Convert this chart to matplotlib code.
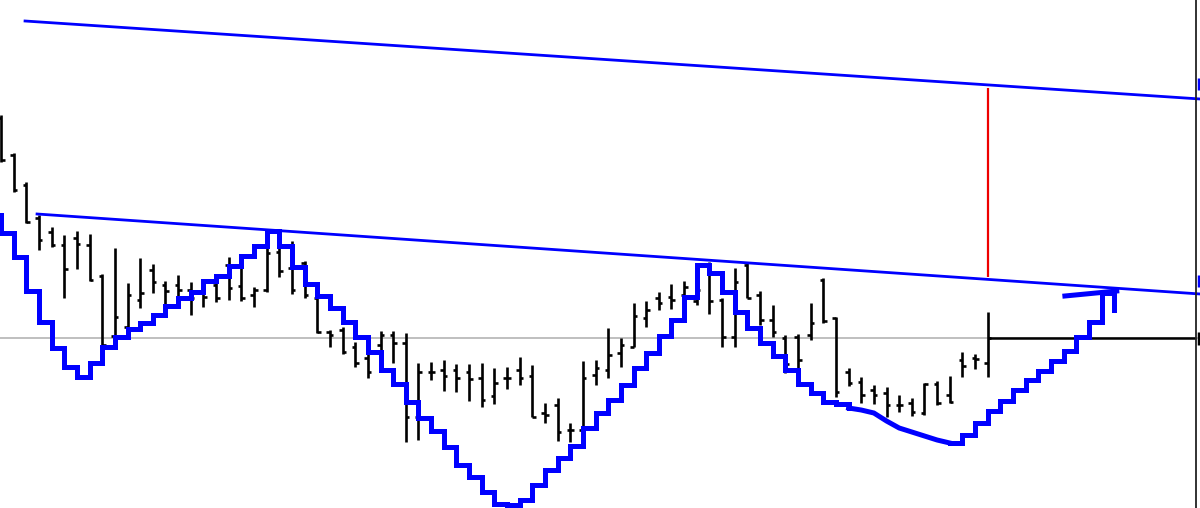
import numpy as np
import matplotlib.pyplot as plt

bar_high = [115, 153, 182, 215, 227, 235, 231, 234, 274, 248, 283, 258, 264, 281, 275, 282,
            290, 277, 257, 265, 287, 247, 247, 241, 261, 295, 330, 327, 342, 354, 331, 331,
            333, 363, 362, 360, 364, 364, 363, 368, 367, 357, 365, 403, 398, 423, 361, 360,
            328, 338, 303, 301, 292, 284, 281, 280, 262, 298, 268, 263, 291, 305, 335, 334,
            303, 278, 317, 368, 377, 385, 387, 395, 398, 383, 381, 376, 352, 354, 312]
bar_low = [162, 192, 223, 250, 247, 298, 269, 281, 347, 336, 327, 308, 293, 306, 300, 315,
           307, 302, 300, 301, 307, 292, 277, 294, 298, 333, 347, 354, 367, 378, 355, 363,
           442, 440, 380, 391, 392, 401, 407, 404, 389, 385, 417, 423, 441, 442, 443, 385,
           378, 367, 347, 327, 310, 309, 304, 305, 314, 347, 347, 298, 325, 337, 373, 369,
           340, 323, 397, 386, 403, 404, 417, 412, 416, 415, 405, 403, 377, 369, 377]
bar_open = [118, 155, 185, 218, 232, 245, 238, 245, 276, 336, 327, 300, 270, 285, 285, 290,
            292, 285, 265, 286, 295, 290, 252, 268, 263, 298, 332, 330, 347, 358, 345, 335,
            343, 417, 372, 370, 370, 372, 378, 396, 378, 370, 376, 413, 405, 430, 430, 375,
            370, 353, 347, 318, 298, 297, 295, 301, 265, 300, 337, 265, 295, 320, 338, 337,
            335, 280, 318, 372, 382, 390, 393, 405, 403, 413, 384, 395, 360, 358, 363]
bar_close = [160, 190, 222, 240, 245, 269, 244, 280, 345, 317, 295, 293, 282, 291, 290, 298,
             297, 298, 288, 298, 290, 253, 271, 290, 295, 332, 335, 352, 363, 372, 335, 343,
             417, 372, 372, 376, 378, 379, 400, 383, 378, 378, 417, 415, 432, 430, 378, 368,
             355, 345, 316, 310, 303, 300, 287, 290, 301, 337, 282, 298, 320, 332, 364, 360,
             323, 321, 392, 383, 395, 395, 405, 405, 412, 384, 403, 402, 366, 359, 338]

# blue stepped projection: one level per bar interval
step_a = [215, 233, 257, 291, 322, 348, 367, 377, 363, 347, 337, 329, 323, 315, 306, 298,
          292, 281, 276, 266, 256, 246, 231, 246, 267, 284, 296, 308, 322, 337, 352, 370,
          384, 402, 418, 431, 447, 465, 477, 492, 504, 505, 500, 485, 470, 458, 446, 428,
          413, 400, 385, 368, 353, 336, 320, 297, 265, 273, 292, 312, 328, 343, 356, 370,
          384, 393, 402, 404, 408]
curve_y = [408, 410, 413, 421, 428, 432, 436, 440, 443]
step_b = [443, 435, 423, 411, 401, 390, 380, 371, 361, 351, 337, 322, 293, 310]
hook_x = [84.1, 88.2]
hook_y = [296, 291]

upper_x = [1.9, 94.8]
upper_y = [21, 99]
lower_x = [2.85, 94.8]
lower_y = [214, 294]

red_x = 78
red_top, red_bottom = 88, 277
ref_level = 338
last_close = 338

n = len(bar_high)
idx = np.arange(n)

fig = plt.figure(figsize=(12, 5.08), dpi=100)
ax = fig.add_axes([0, 0, 1, 1])

ax.axhline(ref_level, color='#b4b4b4', lw=1.2, zorder=1)

# OHLC bars
ax.vlines(idx, bar_high, bar_low, color='black', lw=1.9, zorder=2)
ax.hlines(bar_open, idx - 0.28, idx, color='black', lw=1.9, zorder=2)
ax.hlines(bar_close, idx, idx + 0.28, color='black', lw=1.9, zorder=2)

ax.hlines(last_close, n - 1, 94.45, color='black', lw=1.8, zorder=2)

# channel lines
ax.plot(upper_x, upper_y, color='#0000ff', lw=2.0, zorder=3)
ax.plot(lower_x, lower_y, color='#0000ff', lw=2.0, zorder=3)
ax.vlines(red_x, red_top, red_bottom, color='#ee0000', lw=1.6, zorder=3)

# blue step line
blue = dict(color='#0000ff', lw=3.6, solid_joinstyle='miter', zorder=4)
xa = np.arange(-1, len(step_a) - 1)
ax.step(xa, step_a, where='post', **blue)
xc = np.arange(67, 67 + len(curve_y))
ax.plot(xc, curve_y, **blue)
xb = np.arange(75, 75 + len(step_b))
ax.step(xb, step_b, where='post', **blue)
ax.plot(hook_x, hook_y, **blue)

# right price axis edge
ax.axvline(94.45, color='#222222', lw=1.3, zorder=5)
ax.vlines(94.72, 78, 90, color='#0000ff', lw=2.5, zorder=5)
ax.vlines(94.72, 275, 287, color='#0000ff', lw=2.5, zorder=5)
ax.vlines(94.72, 332, 345, color='black', lw=2.5, zorder=5)

ax.set_xlim(-0.079, 94.78)
ax.set_ylim(508, 0)
ax.axis('off')

fig.savefig('out.png', dpi=100, facecolor='white')
